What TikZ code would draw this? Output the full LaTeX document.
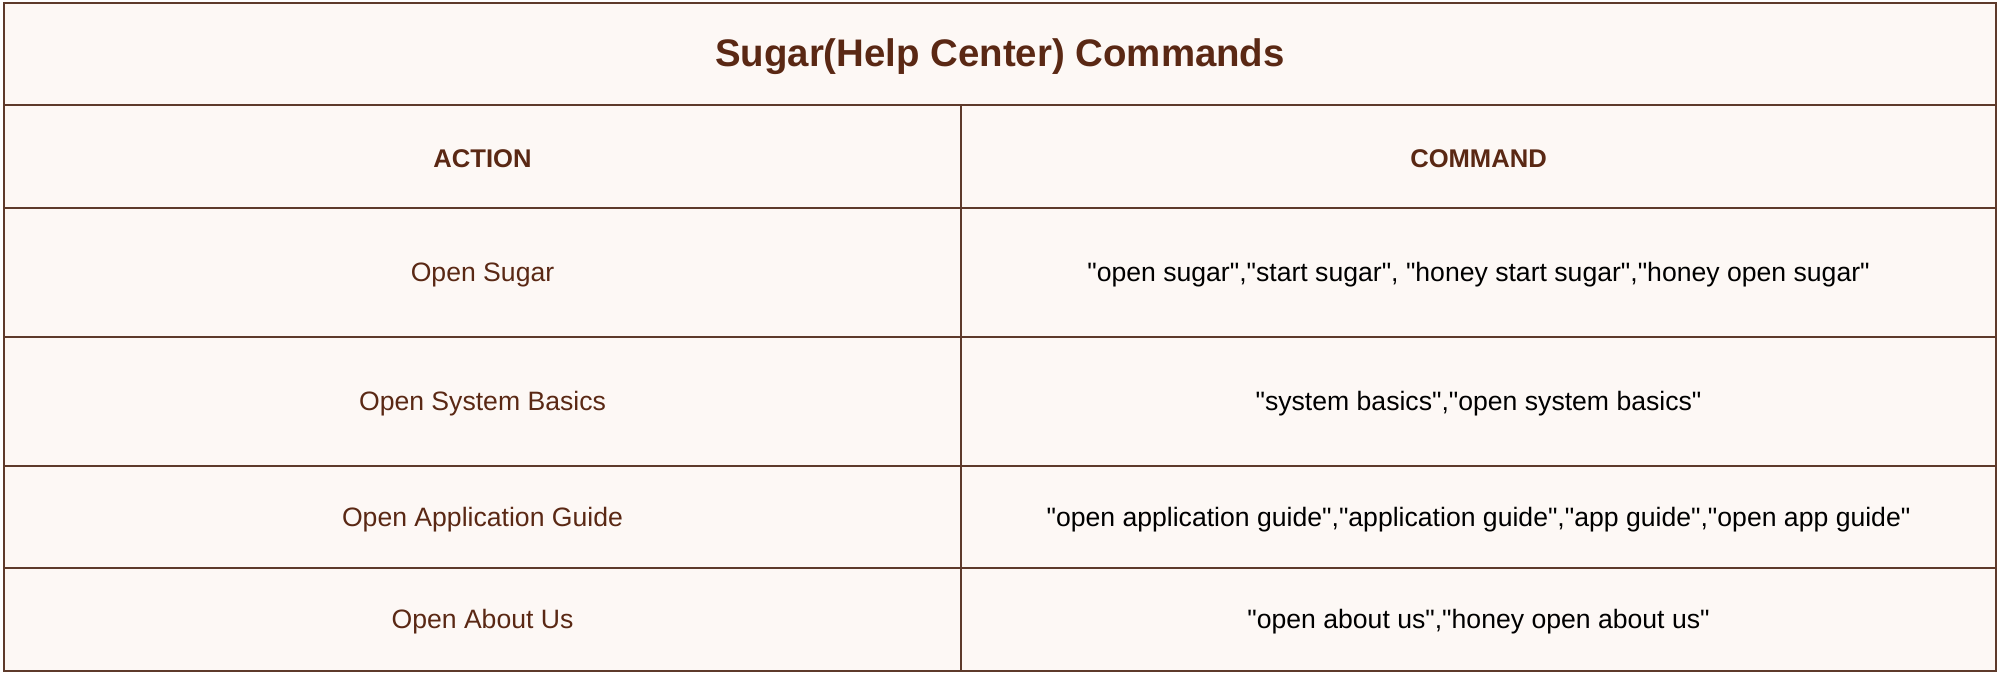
\documentclass[tikz,border=0pt]{standalone}
\usepackage{fontspec}
\setmainfont{Liberation Sans}[Ligatures=TeXOff]
\usepackage{xcolor}
\usetikzlibrary{positioning,calc}

\definecolor{cellbg}{HTML}{FDF8F5}
\definecolor{gridline}{HTML}{5E3A2B}
\definecolor{browntext}{HTML}{5A2814}

\tikzset{
    titletext/.style={font=\bfseries\fontsize{19.2}{23}\selectfont, text=browntext},
    headtext/.style={font=\bfseries\fontsize{12.8}{15}\selectfont, text=browntext},
    acttext/.style={font=\fontsize{13.3}{16}\selectfont, text=browntext},
    cmdtext/.style={font=\fontsize{13.3}{16}\selectfont, text=black},
    gridrule/.style={gridline, line width=0.8pt}
}

\begin{document}
\begin{tikzpicture}[x=0.5pt,y=-0.5pt]
    \useasboundingbox (0,0) rectangle (2000,674);
    % Table background
    \fill[cellbg] (4,3) rectangle (1996,671);
    % Grid lines
    \foreach \y in {105,208,337,466,568} {
        \draw[gridrule] (4,\y) -- (1996,\y);
    }
    \draw[gridrule] (961,105) -- (961,671);
    \draw[gridrule] (4,3) rectangle (1996,671);

    % Title and column heads
    \node[titletext] (title) at (1000,57) {Sugar(Help Center) Commands};
    \node[headtext] (action) at (482.5,159) {ACTION};
    \node[headtext] (command) at (1478.5,159) {COMMAND};

    % Rows
    \node[acttext] (sugar) at (482.5,275) {Open Sugar};
    \node[cmdtext] (sugarcmd) at (1478.5,275) {"open sugar","start sugar", "honey start sugar","honey open sugar"};
    \node[acttext] (basics) at (482.5,404) {Open System Basics};
    \node[cmdtext] (basicscmd) at (1478.5,404) {"system basics","open system basics"};
    \node[acttext] (guide) at (482.5,519.5) {Open Application Guide};
    \node[cmdtext] (guidecmd) at (1478.5,519.5) {"open application guide","application guide","app guide","open app guide"};
    \node[acttext] (about) at (482.5,622) {Open About Us};
    \node[cmdtext] (aboutcmd) at (1478.5,622) {"open about us","honey open about us"};
\end{tikzpicture}
\end{document}
